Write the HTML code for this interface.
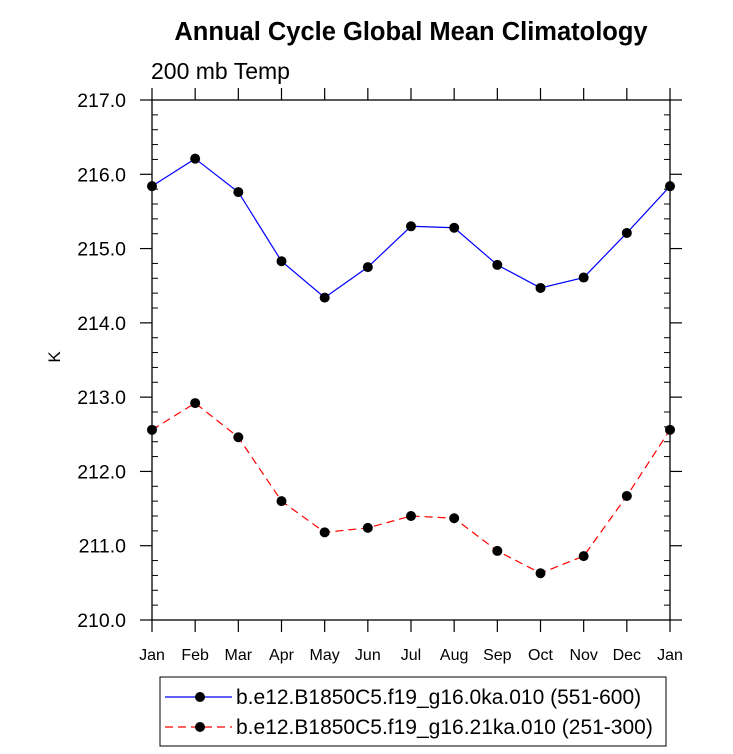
<!DOCTYPE html>
<html><head><meta charset="utf-8"><style>
html,body{margin:0;padding:0;background:#fff;}
svg{display:block;font-family:"Liberation Sans",Arial,sans-serif;}
</style></head><body>
<svg id="chart" width="733" height="754">
<text x="411" y="40" text-anchor="middle" font-size="25.5" font-weight="bold">Annual Cycle Global Mean Climatology</text>
<text x="151" y="79" font-size="23">200 mb Temp</text>
<text x="60" y="357" font-size="17" text-anchor="middle" transform="rotate(-90 60 357)">K</text>
<g id="axes"></g>
<g id="series"></g>
<rect x="160" y="677" width="506" height="69" fill="none" stroke="#000" stroke-width="1"/>
<line x1="165" y1="697" x2="232" y2="697" stroke="#00f" stroke-width="1.2"/>
<circle cx="200" cy="697" r="5" fill="#000"/>
<text x="236" y="704" font-size="21">b.e12.B1850C5.f19_g16.0ka.010 (551-600)</text>
<line x1="165" y1="727" x2="232" y2="727" stroke="#f00" stroke-width="1.2" stroke-dasharray="8,5"/>
<circle cx="200" cy="727" r="5" fill="#000"/>
<text x="236" y="734" font-size="21">b.e12.B1850C5.f19_g16.21ka.010 (251-300)</text>
</svg>
<script>
const months = ["Jan","Feb","Mar","Apr","May","Jun","Jul","Aug","Sep","Oct","Nov","Dec","Jan"];
const blueValues = [215.84,216.21,215.76,214.83,214.34,214.75,215.30,215.28,214.78,214.47,214.61,215.21,215.84];
const redValues = [212.56,212.92,212.46,211.60,211.18,211.24,211.40,211.37,210.93,210.63,210.86,211.67,212.56];
const yTicks = [210,211,212,213,214,215,216,217];
const yMin = 210, yMax = 217;
const L=152,R=670,T=100,B=620;
const NS="http://www.w3.org/2000/svg";
const xs = i => L + i*(R-L)/(months.length-1);
const ys = v => B - (v-yMin)/(yMax-yMin)*(B-T);
function mk(tag,attrs,parent){const e=document.createElementNS(NS,tag);for(const k in attrs)e.setAttribute(k,attrs[k]);parent.appendChild(e);return e;}
const ax=document.getElementById('axes'), se=document.getElementById('series');
let r=mk('rect',{x:L,y:T,width:R-L,height:B-T,fill:'none',stroke:'#000','stroke-width':1.3},ax);


for(let v=yMin; v<=yMax+1e-6; v+=0.2){
  const y=ys(v); const major=Math.abs(v-Math.round(v))<1e-6;
  if(major){
    mk('line',{x1:L-12,y1:y,x2:L,y2:y,stroke:'#000','stroke-width':1.2},ax);
    mk('line',{x1:R,y1:y,x2:R+12,y2:y,stroke:'#000','stroke-width':1.2},ax);
  } else {
    mk('line',{x1:L,y1:y,x2:L+6,y2:y,stroke:'#000','stroke-width':1},ax);
    mk('line',{x1:R-6,y1:y,x2:R,y2:y,stroke:'#000','stroke-width':1},ax);
  }
}
yTicks.forEach(v=>{
  const t=mk('text',{x:L-26,y:ys(v)+7,'text-anchor':'end','font-size':19.5},ax);
  t.textContent=v.toFixed(1);
  
  
});
months.forEach((m,i)=>{
  const x=xs(i);
  mk('line',{x1:x,y1:B,x2:x,y2:B+12,stroke:'#000','stroke-width':1.2},ax);
  mk('line',{x1:x,y1:T-12,x2:x,y2:T,stroke:'#000','stroke-width':1.2},ax);
  const t=mk('text',{x:x,y:B+40,'text-anchor':'middle','font-size':16},ax);
  t.textContent=m;
  
  
});
function series(vals,color,dash,name){
  const p=mk('polyline',{points:vals.map((v,i)=>xs(i)+','+ys(v)).join(' '),fill:'none',stroke:color,'stroke-width':1.2},se);
  if(dash)p.setAttribute('stroke-dasharray',dash);
  
  
  vals.forEach((v,i)=>{
    const c=mk('circle',{cx:xs(i),cy:ys(v),r:5,fill:'#000'},se);
    
    
  });
}
series(blueValues,'#00f',null,'blue-series');
series(redValues,'#f00','8,5','red-series');
</script>
</body></html>
